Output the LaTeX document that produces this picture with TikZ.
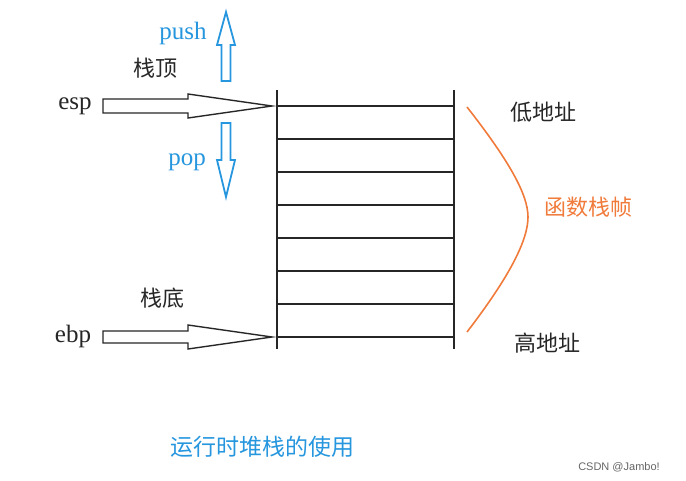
\documentclass[tikz,border=0pt]{standalone}
\usepackage{fontspec}
\setmainfont{Liberation Serif}
\newfontfamily\cjk{Noto Sans CJK SC}
\newfontfamily\wmfont{Liberation Sans}
\usetikzlibrary{positioning,calc}
\definecolor{pushblue}{RGB}{38,150,222}
\definecolor{frameorange}{RGB}{240,122,58}

\begin{document}
\begin{tikzpicture}[x=1pt, y=-1pt, line join=miter,
  reg/.style={font=\fontsize{25}{28}\selectfont, text=black!85, inner sep=0pt},
  han/.style={font=\cjk\fontsize{22}{24}\selectfont, text=black!85, inner sep=0pt},
  hollow/.style={draw=black!85, line width=1.4pt, fill=white},
  bluehollow/.style={draw=pushblue, line width=1.8pt, fill=white},
  slot/.style={draw=black!85, line width=1.3pt},
  wall/.style={draw=black!85, line width=1.8pt}]
\useasboundingbox (0,0) rectangle (686,481);
%
\coordinate (ltop) at (277,90);
\coordinate (lbot) at (277,349);
\coordinate (rtop) at (454,90);
\coordinate (rbot) at (454,349);
\draw[wall] (ltop) -- (lbot);
\draw[wall] (rtop) -- (rbot);
\foreach \i in {0,...,7}
  \draw[slot] (277,106+33*\i) -- (454,106+33*\i);
%
\node[reg]                 (esp)  at (75,106)  {esp};
\node[reg]                 (ebp)  at (73,336)  {ebp};
\node[han]                 (top)  at (155,68)  {栈顶};
\node[han]                 (bottom) at (162,298) {栈底};
\node[reg,text=pushblue]   (push) at (183,33)  {push};
\node[reg,text=pushblue]   (pop)  at (187,162) {pop};
\node[han]                 (low)  at (543,112) {低地址};
\node[han]                 (high) at (547,343) {高地址};
\node[han,text=frameorange] (frame) at (588,207) {函数栈帧};
\node[han,text=pushblue,font=\cjk\fontsize{23}{26}\selectfont] (title) at (262,447) {运行时堆栈的使用};
\node[font=\wmfont\fontsize{11}{13}\selectfont,text=black!60,inner sep=0pt] (mark) at (619,467) {CSDN @Jambo!};
%
\coordinate (esptip)  at (272,106);
\coordinate (ebptip)  at (272,337);
\coordinate (pushtip) at (226,12);
\coordinate (poptip)  at (226,197);
%
\draw[hollow] (esptip) -- ++(-84,-12) -- ++(0,5) -- ++(-85,0)
  -- ++(0,14) -- ++(85,0) -- ++(0,5) -- cycle;
\draw[hollow] (ebptip) -- ++(-84,-12) -- ++(0,6) -- ++(-85,0)
  -- ++(0,12) -- ++(85,0) -- ++(0,6) -- cycle;
%
\draw[bluehollow] (pushtip) -- ++(-9,33) -- ++(4.5,0) -- ++(0,36)
  -- ++(9,0) -- ++(0,-36) -- ++(4.5,0) -- cycle;
\draw[bluehollow] (poptip) -- ++(-9,-37) -- ++(4.5,0) -- ++(0,-37)
  -- ++(9,0) -- ++(0,37) -- ++(4.5,0) -- cycle;
%
\coordinate (lowend)  at (467,107);
\coordinate (apex)    at (528,217);
\coordinate (highend) at (467,332);
\draw[frameorange, line width=1.6pt]
  (lowend) .. controls (510,162) and (528,195) .. (apex)
           .. controls (528,240) and (510,276) .. (highend);
\end{tikzpicture}
\end{document}
